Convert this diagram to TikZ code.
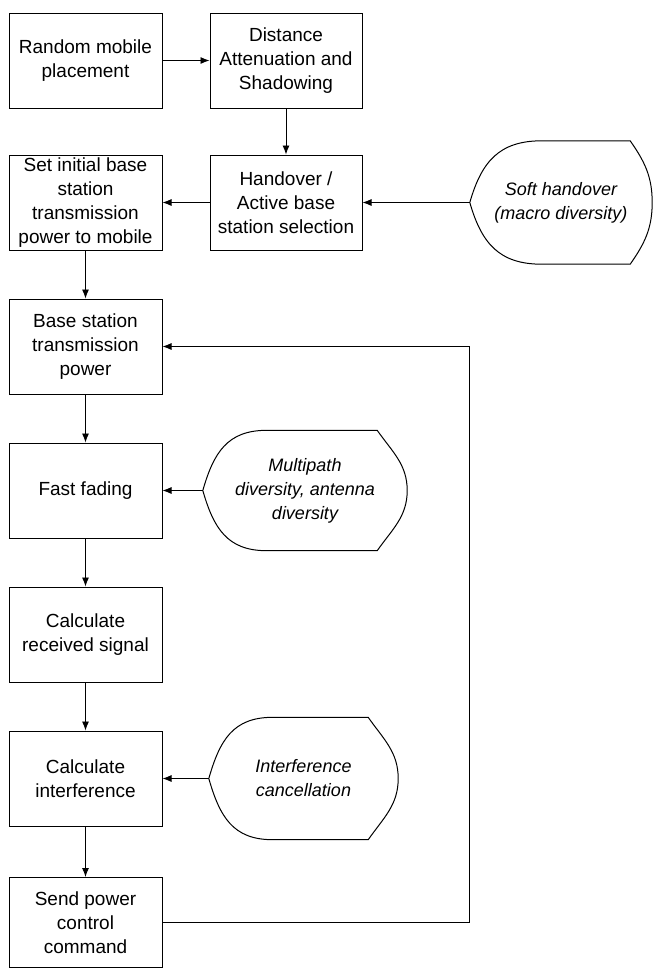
\documentclass[tikz,border=0pt]{standalone}
\usepackage{fontspec}
\setmainfont{Liberation Sans}
\usepackage{tikz}
\usetikzlibrary{arrows.meta}
% outline of a side note: node name, top-left inset, right inset
\newcommand{\bowline}[3]{%
  \draw[bowedge] (#1.west) to[out=74,in=180,looseness=1.15] ([xshift=#2]#1.north west) -- ([xshift=-#3]#1.north east)
    to[out=-55,in=90] (#1.east) to[out=-90,in=55] ([xshift=-#3]#1.south east)
    -- ([xshift=#2]#1.south west) to[out=180,in=-74,looseness=1.15] (#1.west);}

\begin{document}
\begin{tikzpicture}[x=1pt,y=-1pt,node distance=144pt,
  font=\fontsize{19pt}{24pt}\selectfont,
  block/.style={draw,line width=1pt,minimum width=153pt,minimum height=95pt,inner sep=0pt,align=center},
  sidenote/.style={minimum height=121pt,inner sep=0pt,align=center,font=\fontsize{18pt}{24pt}\selectfont\itshape},
  bowedge/.style={line width=1pt},
  arr/.style={-{Latex[length=9pt,width=7pt]},line width=0.9pt}]
\useasboundingbox (0,0) rectangle (655,970);
% Create nodes for the main steps
\node[block] (placement) at (85.5,60.5) {Random mobile\\placement};
\node[block, minimum width=152pt, node distance=200.5pt, right of=placement] (shadowing) {Distance\\Attenuation and\\Shadowing};
\node[block, minimum width=152pt, node distance=142pt, below of=shadowing] (handover) {Handover /\\Active base\\station selection};
\node[block, node distance=142pt, below of=placement] (initpower) {Set initial base\\station\\transmission\\power to mobile};
\node[block, below of=initpower] (btspower) {Base station\\transmission\\power};
\node[block, below of=btspower] (fading) {Fast fading};
\node[block, below of=fading] (received) {Calculate\\received signal};
\node[block, below of=received] (interference) {Calculate\\interference};
\node[block, minimum height=90pt, below of=interference] (command) {Send power\\control\\command};

% Side notes
\node[sidenote, minimum width=182pt, minimum height=123pt, node distance=275pt, right of=handover] (softho) {Soft handover\\(macro diversity)};
\node[sidenote, minimum width=204pt, minimum height=120pt, node distance=219.5pt, right of=fading] (multipath) {Multipath\\diversity, antenna\\diversity};
\node[sidenote, minimum width=189pt, minimum height=122pt, node distance=218pt, right of=interference] (cancel) {Interference\\cancellation};
\bowline{softho}{72pt}{22pt}
\bowline{multipath}{64pt}{30pt}
\bowline{cancel}{64pt}{30pt}

% Connections
\draw[arr] (placement) -- (shadowing);
\draw[arr] (shadowing) -- (handover);
\draw[arr] (handover) -- (initpower);
\draw[arr] (initpower) -- (btspower);
\draw[arr] (btspower) -- (fading);
\draw[arr] (fading) -- (received);
\draw[arr] (received) -- (interference);
\draw[arr] (interference) -- (command);
\draw[arr] (softho.west) -- (handover);
\draw[arr] (multipath.west) -- (fading);
\draw[arr] (cancel.west) -- (interference);
\draw[arr] (command.east) -- ++(307,0) |- (btspower.east);
\end{tikzpicture}
\end{document}
